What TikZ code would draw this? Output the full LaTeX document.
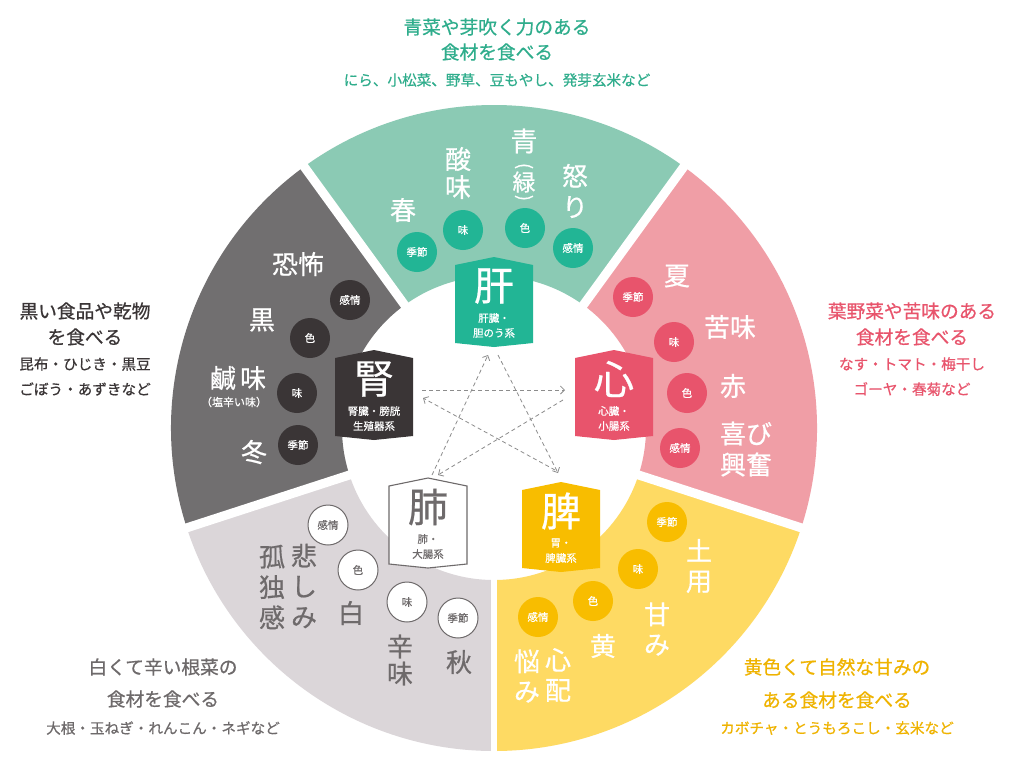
\documentclass[tikz,border=0pt]{standalone}
\usepackage{fontspec}
\setmainfont{Noto Sans CJK JP}
\newfontfamily\jpb{Noto Sans CJK JP}[FakeBold=0.6]
\usetikzlibrary{arrows.meta}
\definecolor{gL}{HTML}{8BCAB4}
\definecolor{gD}{HTML}{22B595}
\definecolor{gT}{HTML}{2FAD8C}
\definecolor{pL}{HTML}{F09EA6}
\definecolor{pD}{HTML}{E8546C}
\definecolor{yL}{HTML}{FEDA63}
\definecolor{yD}{HTML}{F8BD00}
\definecolor{yT}{HTML}{EFB300}
\definecolor{wL}{HTML}{DBD6D9}
\definecolor{wT}{HTML}{6E6A6B}
\definecolor{kL}{HTML}{716F70}
\definecolor{kD}{HTML}{3A3536}
\definecolor{kT}{HTML}{3A3536}
\definecolor{arr}{HTML}{8C8C8C}
\newcommand\organ[9]{%
  \path[fill=#4,draw=#5,line width=1.1pt] (#2-39,#3-37) -- (#2,#3-45) -- (#2+39,#3-37) -- (#2+39,#3+41) -- (#2,#3+45) -- (#2-39,#3+41) -- cycle;
  \node[orgbig,text=#6] (#1) at (#2,#3-16) {#7};
  \node[orgsm,text=#6] (#1a) at (#2,#3+16) {#8};
  \node[orgsm,text=#6] (#1b) at (#2,#3+31) {#9};
}
\newcommand\ringsect[3]{%
  \fill[#3] (#1:323) arc[start angle=#1,end angle=#2,radius=323] -- (#2:152) arc[start angle=#2,end angle=#1,radius=152] -- cycle;
}
\begin{document}
\begin{tikzpicture}[x=1pt,y=-1pt,
  lbl/.style={inner sep=0pt,text=white,align=center,font=\jpb\fontsize{26}{30}\selectfont},
  circ/.style={circle,inner sep=0pt,minimum size=40pt,text=white,font=\jpb\fontsize{10.5}{11}\selectfont},
  wcirc/.style={circ,fill=white,draw=wT,line width=1pt,text=wT},
  orgbig/.style={inner sep=0pt,font=\jpb\fontsize{40}{40}\selectfont},
  orgsm/.style={inner sep=0pt,font=\jpb\fontsize{10.5}{11}\selectfont},
  headA/.style={inner sep=0pt,font=\jpb\fontsize{18.7}{20}\selectfont},
  headB/.style={inner sep=0pt,font=\jpb\fontsize{14.6}{16}\selectfont},
  dsh/.style={draw=arr,line width=0.8pt,dash pattern=on 4pt off 3pt,-{Straight Barb[length=4pt,width=8pt]}}
]
\useasboundingbox (0,0) rectangle (1024,777);
\fill[white] (0,0) rectangle (1024,777);

% ring
\begin{scope}[shift={(494,428)}]
  \ringsect{-126}{-54}{gL}
  \ringsect{-54}{18}{pL}
  \ringsect{18}{90}{yL}
  \ringsect{90}{162}{wL}
  \ringsect{162}{234}{kL}
  \draw[white,line width=9pt] (0,0) -- (-126:345);
  \draw[white,line width=9pt] (0,0) -- (-54:345);
  \draw[white,line width=9pt] (0,0) -- (18:345);
  \draw[white,line width=6pt] (0,0) -- (90:345);
  \draw[white,line width=9pt] (0,0) -- (162:345);
\end{scope}

% outside texts
\node[headA,text=gT] (t1) at (497,27) {青菜や芽吹く力のある};
\node[headA,text=gT] (t2) at (497,52) {食材を食べる};
\node[headB,text=gT] (t3) at (497,80) {にら、小松菜、野草、豆もやし、発芽玄米など};

\node[headA,text=kT] (l1) at (85,311) {黒い食品や乾物};
\node[headA,text=kT] (l2) at (85,337) {を食べる};
\node[headB,text=kT] (l3) at (85,364) {昆布・ひじき・黒豆};
\node[headB,text=kT] (l4) at (85,389) {ごぼう・あずきなど};

\node[headA,text=pD] (r1) at (912,311) {葉野菜や苦味のある};
\node[headA,text=pD] (r2) at (912,337) {食材を食べる};
\node[headB,text=pD] (r3) at (912,364) {なす・トマト・梅干し};
\node[headB,text=pD] (r4) at (912,389) {ゴーヤ・春菊など};

\node[headA,text=wT] (b1) at (163,667) {白くて辛い根菜の};
\node[headA,text=wT] (b2) at (163,699) {食材を食べる};
\node[headB,text=wT] (b3) at (163,728) {大根・玉ねぎ・れんこん・ネギなど};

\node[headA,text=yT] (y1) at (837,667) {黄色くて自然な甘みの};
\node[headA,text=yT] (y2) at (837,700) {ある食材を食べる};
\node[headB,text=yT] (y3) at (837,728) {カボチャ・とうもろこし・玄米など};

% green sector
\node[lbl] (g1) at (403,210) {春};
\node[lbl,font=\jpb\fontsize{26}{28}\selectfont] (g2) at (458,173) {酸\\味};
\node[lbl,font=\jpb\fontsize{27}{27}\selectfont] (g3) at (524,141) {青};
\node[lbl,font=\jpb\fontsize{18}{18}\selectfont,rotate=-90] (g4) at (524,166) {(};
\node[lbl,font=\jpb\fontsize{23}{23}\selectfont] (g5) at (524,182) {緑};
\node[lbl,font=\jpb\fontsize{18}{18}\selectfont,rotate=-90] (g6) at (524,198) {)};
\node[lbl,font=\jpb\fontsize{26}{31}\selectfont] (g7) at (575,191) {怒\\り};
\node[circ,fill=gD] (gc1) at (417,252) {季節};
\node[circ,fill=gD] (gc2) at (463,230) {味};
\node[circ,fill=gD] (gc3) at (525,228) {色};
\node[circ,fill=gD] (gc4) at (573,248) {感情};

% pink sector
\node[lbl] (p1) at (677,276) {夏};
\node[lbl] (p2) at (730,327) {苦味};
\node[lbl] (p3) at (733,386) {赤};
\node[lbl,font=\jpb\fontsize{26}{31}\selectfont] (p4) at (746,449) {喜び\\興奮};
\node[circ,fill=pD] (pc1) at (633,297) {季節};
\node[circ,fill=pD] (pc2) at (674,342) {味};
\node[circ,fill=pD] (pc3) at (687,393) {色};
\node[circ,fill=pD] (pc4) at (680,448) {感情};

% yellow sector
\node[lbl] (s1) at (699,566) {土\\用};
\node[lbl] (s2) at (657,629) {甘\\み};
\node[lbl] (s3) at (603,646) {黄};
\node[lbl] (s4) at (558,675) {心\\配};
\node[lbl] (s5) at (527,676) {悩\\み};
\node[circ,fill=yD] (sc1) at (667,522) {季節};
\node[circ,fill=yD] (sc2) at (638,569) {味};
\node[circ,fill=yD] (sc3) at (593,601) {色};
\node[circ,fill=yD] (sc4) at (538,617) {感情};

% light gray sector
\node[lbl,text=wT,font=\jpb\fontsize{26}{30.5}\selectfont] (w1) at (304,586) {悲\\し\\み};
\node[lbl,text=wT,font=\jpb\fontsize{26}{30.5}\selectfont] (w2) at (272,587) {孤\\独\\感};
\node[lbl,text=wT] (w3) at (351,613) {白};
\node[lbl,text=wT,font=\jpb\fontsize{26}{27}\selectfont] (w4) at (400,660) {辛\\味};
\node[lbl,text=wT] (w5) at (459,662) {秋};
\node[wcirc] (wc1) at (328,525) {感情};
\node[wcirc] (wc2) at (358,570) {色};
\node[wcirc] (wc3) at (407,602) {味};
\node[wcirc] (wc4) at (458,618) {季節};

% dark gray sector
\node[lbl] (k1) at (298,264) {恐怖};
\node[lbl] (k2) at (262,320) {黒};
\node[lbl] (k3) at (238,378) {鹹\,味};
\node[inner sep=0pt,text=white,font=\jpb\fontsize{11}{11}\selectfont] (k4) at (234,402) {（塩辛い味）};
\node[lbl] (k5) at (254,452) {冬};
\node[circ,fill=kD] (kc1) at (350,300) {感情};
\node[circ,fill=kD] (kc2) at (310,338) {色};
\node[circ,fill=kD] (kc3) at (297,393) {味};
\node[circ,fill=kD] (kc4) at (298,445) {季節};

% organ badges
\organ{kan}{494}{302}{gD}{none}{white}{肝}{肝臓・}{胆のう系}
\organ{jin}{374}{395}{kD}{none}{white}{腎}{腎臓・膀胱}{生殖器系}
\organ{shin}{614}{395}{pD}{none}{white}{心}{心臓・}{小腸系}
\organ{hai}{428}{523}{white}{wT}{wT}{肺}{肺・}{大腸系}
\organ{hi}{561}{527}{yD}{none}{white}{脾}{胃・}{脾臓系}

% dashed star
\coordinate (kanI) at (488,355);
\coordinate (kanO) at (498,355);
\coordinate (jinI) at (423,398);
\coordinate (jinO) at (422,390);
\coordinate (shinI) at (565,390);
\coordinate (shinO) at (563,400);
\coordinate (haiI) at (438,475);
\coordinate (haiO) at (432,475);
\coordinate (hiI) at (558,473);
\coordinate (hiO) at (555,470);
\draw[dsh] (kanO) -- (hiI);
\draw[dsh] (hiO) -- (jinI);
\draw[dsh] (jinO) -- (shinI);
\draw[dsh] (shinO) -- (haiI);
\draw[dsh] (haiO) -- (kanI);
\end{tikzpicture}
\end{document}
